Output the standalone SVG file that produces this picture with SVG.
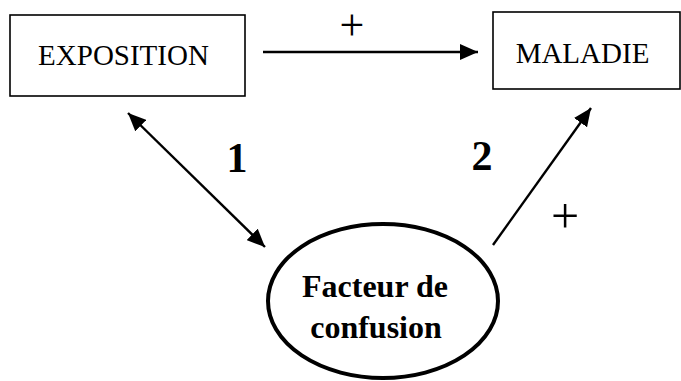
<svg xmlns="http://www.w3.org/2000/svg" width="681" height="381" viewBox="0 0 681 381">
<style>
.box{fill:#fff;stroke:#000;stroke-width:1.6}
.lbl{font-family:"Liberation Serif","Times New Roman",serif;fill:#000}
.edge{stroke:#000;stroke-width:2.4;fill:none}
</style>
<defs>
<marker id="ah" markerUnits="userSpaceOnUse" markerWidth="20" markerHeight="16" viewBox="0 0 20 16" refX="18" refY="8" orient="auto-start-reverse">
<path d="M0,0 L18,8 L0,16 Z" fill="#000"/>
</marker>
</defs>
<rect width="681" height="381" fill="#fff"/>
<g id="exposition">
<rect class="box" x="10" y="15" width="235" height="81"/>
<text class="lbl" x="123.5" y="65" font-size="29" text-anchor="middle">EXPOSITION</text>
</g>
<g id="maladie">
<rect class="box" x="493" y="12" width="187" height="77"/>
<text class="lbl" x="582.5" y="63" font-size="29" text-anchor="middle">MALADIE</text>
</g>
<g id="facteur">
<ellipse cx="383" cy="301" rx="115" ry="77" fill="#fff" stroke="#000" stroke-width="4"/>
<text class="lbl" x="375" y="297" font-size="32" font-weight="bold" text-anchor="middle">Facteur de</text>
<text class="lbl" x="376" y="338" font-size="32" font-weight="bold" text-anchor="middle">confusion</text>
</g>
<g id="connectors">
<line class="edge" x1="263" y1="52" x2="478" y2="52" marker-end="url(#ah)"/>
<line class="edge" x1="128" y1="113" x2="265" y2="247" marker-start="url(#ah)" marker-end="url(#ah)"/>
<line class="edge" x1="493" y1="245" x2="591" y2="108" marker-end="url(#ah)"/>
<text class="lbl" x="352" y="40" font-size="44" text-anchor="middle">+</text>
<text class="lbl" x="237" y="172" font-size="42" font-weight="bold" text-anchor="middle">1</text>
<text class="lbl" x="482" y="170" font-size="42" font-weight="bold" text-anchor="middle">2</text>
<text class="lbl" x="565" y="233" font-size="50" text-anchor="middle">+</text>
</g>
</svg>
